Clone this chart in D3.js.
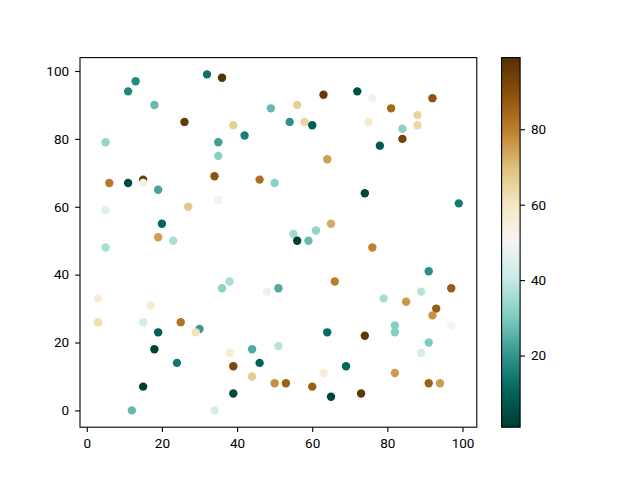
<!DOCTYPE html>
<html>
<head>
<meta charset="utf-8">
<script src="https://cdn.jsdelivr.net/npm/d3@7"></script>
<style>
  body { margin: 0; background: #fff; }
  .axis text { font-family: Roboto, "Liberation Sans", sans-serif; font-size: 13.5px; fill: #000; }
  .axis path, .axis line { stroke: #000; stroke-width: 1.1px; }
</style>
</head>
<body>
<div id="chart"></div>
<script>
// scatter points, in drawing order
var xs = [13, 11, 32, 36, 18, 49, 26, 39, 42, 5, 35, 35, 6, 11, 15, 15, 19, 34, 46, 50,
  5, 27, 35, 20, 19, 23, 5, 63, 72, 76, 56, 81, 92, 88, 88, 54, 58, 60, 75, 84,
  84, 78, 64, 74, 99, 65, 61, 55, 56, 59, 3, 3, 17, 15, 25, 30, 29, 19, 18, 24,
  15, 12, 34, 36, 38, 48, 51, 38, 39, 44, 46, 44, 50, 39, 51, 76, 66, 91, 97, 79,
  85, 89, 93, 92, 97, 82, 82, 91, 89, 64, 74, 69, 63, 82, 53, 60, 65, 73, 91, 94];

var ys = [97, 94, 99, 98, 90, 89, 85, 84, 81, 79, 79, 75, 67, 67, 68, 67, 65, 69, 68, 67,
  59, 60, 62, 55, 51, 50, 48, 93, 94, 92, 90, 89, 92, 87, 84, 85, 85, 84, 85, 83,
  80, 78, 74, 64, 61, 55, 53, 52, 50, 50, 33, 26, 31, 26, 26, 24, 23, 23, 18, 14,
  7, 0, 0, 36, 38, 35, 36, 17, 13, 18, 14, 10, 8, 5, 19, 48, 38, 41, 36, 33,
  32, 35, 30, 28, 25, 25, 23, 20, 17, 23, 22, 13, 11, 11, 8, 7, 4, 5, 8, 8];

var colorValues = [18, 17, 13, 99, 27, 27, 96, 66, 16, 33, 22, 31, 81, 4, 95, 53, 23, 89, 83, 32,
  45, 68, 49, 11, 75, 36, 36, 96, 6, 48, 66, 84, 89, 65, 64, 19, 65, 9, 59, 32,
  93, 8, 75, 4, 15, 73, 33, 35, 2, 27, 57, 62, 56, 43, 82, 21, 61, 9, 2, 14,
  1, 27, 43, 32, 36, 47, 24, 57, 92, 24, 10, 67, 77, 4, 38, 79, 80, 19, 87, 36,
  76, 38, 87, 77, 49, 31, 31, 30, 43, 12, 97, 11, 56, 75, 86, 86, 3, 97, 86, 75];

var xTicks = [0, 20, 40, 60, 80, 100];
var yTicks = [0, 20, 40, 60, 80, 100];
var colorTicks = [20, 40, 60, 80];

// BrBG reversed (teal at low end, brown at high end)
var brbgR = ["#003c30", "#01665e", "#35978f", "#80cdc1", "#c7eae5", "#f5f5f5",
  "#f6e8c3", "#dfc27d", "#bf812d", "#8c510a", "#543005"];

var width = 640;
var height = 480;
var plot = { left: 80, right: 476.8, top: 57.6, bottom: 427.2 };
var bar = { left: 501.6, right: 520.1, top: 57.6, bottom: 427.2 };

var dataset = xs.map(function(x, i) {
  return { x: x, y: ys[i], c: colorValues[i] };
});

var xMin = d3.min(xs), xMax = d3.max(xs);
var yMin = d3.min(ys), yMax = d3.max(ys);
var cMin = d3.min(colorValues), cMax = d3.max(colorValues);
var xPad = (xMax - xMin) * 0.05, yPad = (yMax - yMin) * 0.05;

var xScale = d3.scaleLinear()
  .domain([xMin - xPad, xMax + xPad])
  .range([plot.left, plot.right]);

var yScale = d3.scaleLinear()
  .domain([yMin - yPad, yMax + yPad])
  .range([plot.bottom, plot.top]);

var cStops = brbgR.map(function(d, i) { return cMin + (cMax - cMin) * i / (brbgR.length - 1); });
var colorScale = d3.scaleLinear()
  .domain(cStops)
  .range(brbgR)
  .interpolate(d3.interpolateRgb);

var svg = d3.select("#chart").append("svg")
  .attr("width", width)
  .attr("height", height);

svg.append("rect")
  .attr("width", width)
  .attr("height", height)
  .attr("fill", "#fff");

// points
svg.append("g")
  .selectAll("circle")
  .data(dataset)
  .enter().append("circle")
  .attr("cx", function(d) { return xScale(d.x); })
  .attr("cy", function(d) { return yScale(d.y); })
  .attr("r", 4.2)
  .attr("fill", function(d) { return colorScale(d.c); });

// axes
var xAxis = d3.axisBottom(xScale)
  .tickValues(xTicks)
  .tickSize(4.9)
  .tickPadding(6)
  .tickSizeOuter(0);

var yAxis = d3.axisLeft(yScale)
  .tickValues(yTicks)
  .tickSize(4.9)
  .tickPadding(6)
  .tickSizeOuter(0);

svg.append("g")
  .attr("class", "axis")
  .attr("transform", "translate(0," + plot.bottom + ")")
  .call(xAxis)
  .select(".domain").remove();

svg.append("g")
  .attr("class", "axis")
  .attr("transform", "translate(" + plot.left + ",0)")
  .call(yAxis)
  .select(".domain").remove();

// frame
svg.append("rect")
  .attr("x", plot.left)
  .attr("y", plot.top)
  .attr("width", plot.right - plot.left)
  .attr("height", plot.bottom - plot.top)
  .attr("fill", "none")
  .attr("stroke", "#000")
  .attr("stroke-width", 1.1);

// colorbar
var cbScale = d3.scaleLinear()
  .domain([cMin, cMax])
  .range([bar.bottom, bar.top]);

var grad = svg.append("defs").append("linearGradient")
  .attr("id", "cbar")
  .attr("x1", 0).attr("y1", 1)
  .attr("x2", 0).attr("y2", 0);

grad.selectAll("stop")
  .data(brbgR)
  .enter().append("stop")
  .attr("offset", function(d, i) { return i / (brbgR.length - 1); })
  .attr("stop-color", function(d) { return d; });

svg.append("rect")
  .attr("x", bar.left)
  .attr("y", bar.top)
  .attr("width", bar.right - bar.left)
  .attr("height", bar.bottom - bar.top)
  .attr("fill", "url(#cbar)")
  .attr("stroke", "#000")
  .attr("stroke-width", 1.1);

var cAxis = d3.axisRight(cbScale)
  .tickValues(colorTicks)
  .tickSize(4.9)
  .tickPadding(6)
  .tickSizeOuter(0);

svg.append("g")
  .attr("class", "axis")
  .attr("transform", "translate(" + bar.right + ",0)")
  .call(cAxis)
  .select(".domain").remove();
</script>
</body>
</html>
